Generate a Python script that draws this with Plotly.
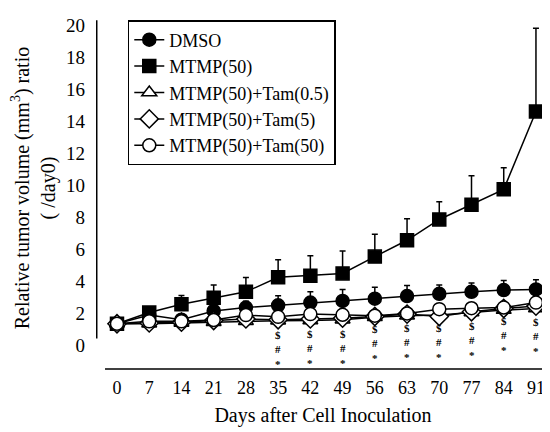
import plotly.graph_objects as go

days = [0, 7, 14, 21, 28, 35, 42, 49, 56, 63, 70, 77, 84, 91]
tick_labels = [str(d) for d in days]

dmso = [1.35, 1.9, 1.6, 2.15, 2.36, 2.5, 2.67, 2.77, 2.91, 3.08, 3.22, 3.34, 3.45, 3.49]
dmso_err = [0, 0.15, 0.2, 0.3, 0.4, 0.6, 0.67, 0.72, 0.72, 0.65, 0.55, 0.56, 0.6, 0.6]

mtmp = [1.35, 2.05, 2.56, 2.97, 3.34, 4.25, 4.35, 4.49, 5.54, 6.56, 7.86, 8.78, 9.74, 14.6]
mtmp_err = [0, 0.2, 0.55, 0.8, 0.9, 1.1, 1.25, 1.4, 1.4, 1.35, 1.1, 1.8, 1.35, 5.2]

tam05 = [1.35, 1.35, 1.4, 1.45, 1.5, 1.54, 1.55, 1.6, 1.75, 1.85, 1.9, 2.05, 2.2, 2.3]
tam5 = [1.35, 1.4, 1.45, 1.55, 1.65, 1.6, 1.65, 1.7, 1.8, 1.95, 1.8, 2.1, 2.3, 2.45]
tam50 = [1.35, 1.5, 1.5, 1.58, 1.89, 1.78, 1.95, 1.91, 1.85, 1.99, 2.26, 2.32, 2.36, 2.67]

sig_days = [35, 42, 49, 56, 63, 70, 77, 84, 91]
sig_y = [0.47, 0.51, 0.55, 0.82, 0.92, 0.88, 1.03, 1.34, 1.29]
sig_marks = ["$", "#", "*"]

FONT = "Liberation Serif"

series = [
    ("DMSO", dmso, dmso_err, "circle", "black"),
    ("MTMP(50)", mtmp, mtmp_err, "square", "black"),
    ("MTMP(50)+Tam(0.5)", tam05, None, "triangle-up", "white"),
    ("MTMP(50)+Tam(5)", tam5, None, "diamond", "white"),
    ("MTMP(50)+Tam(50)", tam50, None, "circle", "white"),
]

fig = go.Figure()
for name, vals, err, sym, fill in series:
    kw = {}
    if err is not None:
        kw["error_y"] = dict(type="data", array=err, arrayminus=[0] * len(err),
                             symmetric=False, color="black", thickness=1.5, width=3)
    fig.add_trace(go.Scatter(
        x=days, y=vals, name=name, mode="lines+markers",
        line=dict(color="black", width=1.5),
        marker=dict(symbol=sym, size=13 if sym != "diamond" else 14, color=fill,
                    line=dict(color="black", width=1.5)),
        **kw))

sig_text = "<br>".join(f"<b>{m}</b>" for m in sig_marks)
for d, y in zip(sig_days, sig_y):
    fig.add_annotation(x=d, y=y, text=sig_text, showarrow=False, yanchor="top", yshift=10,
                       borderpad=0, font=dict(family=FONT, size=11, color="black"))

# axis lines
fig.add_shape(type="line", xref="x", yref="y", x0=-4.4, x1=-4.4, y0=0.43, y1=20.3,
              line=dict(color="black", width=1.5))
fig.add_shape(type="line", xref="x", yref="paper", x0=-2.6, x1=94.05, y0=0.003, y1=0.003,
              line=dict(color="black", width=1.5))

fig.add_annotation(xref="paper", yref="paper", x=-0.137, y=0.52, xshift=-28, textangle=-90,
                   text="Relative tumor volume (mm<sup>3</sup>) ratio<br>( /day0)",
                   showarrow=False, font=dict(family=FONT, size=20, color="black"))

fig.update_layout(
    width=550, height=432,
    margin=dict(l=88, r=8, t=7, b=70),
    paper_bgcolor="white", plot_bgcolor="white",
    font=dict(family=FONT, size=18, color="black"),
    showlegend=True,
    legend=dict(x=0.07, y=1.0, xanchor="left", yanchor="top",
                bordercolor="black", borderwidth=1.5, bgcolor="white",
                font=dict(family=FONT, size=18), tracegroupgap=0,
                itemwidth=30),
    xaxis=dict(range=[-4.56, 94.05], tickmode="array", tickvals=days, ticktext=tick_labels,
               showgrid=False, zeroline=False, showline=False, ticks="",
               ticklabelstandoff=5, tickfont=dict(size=18),
               title=dict(text="Days after Cell Inoculation", standoff=10,
                          font=dict(family=FONT, size=20))),
    yaxis=dict(range=[-1.538, 20.31], tickmode="array", tickvals=list(range(0, 21, 2)),
               showgrid=False, zeroline=False, showline=False, ticks="",
               ticklabelstandoff=10, tickfont=dict(size=19)),
)

fig.write_html("out.html")
